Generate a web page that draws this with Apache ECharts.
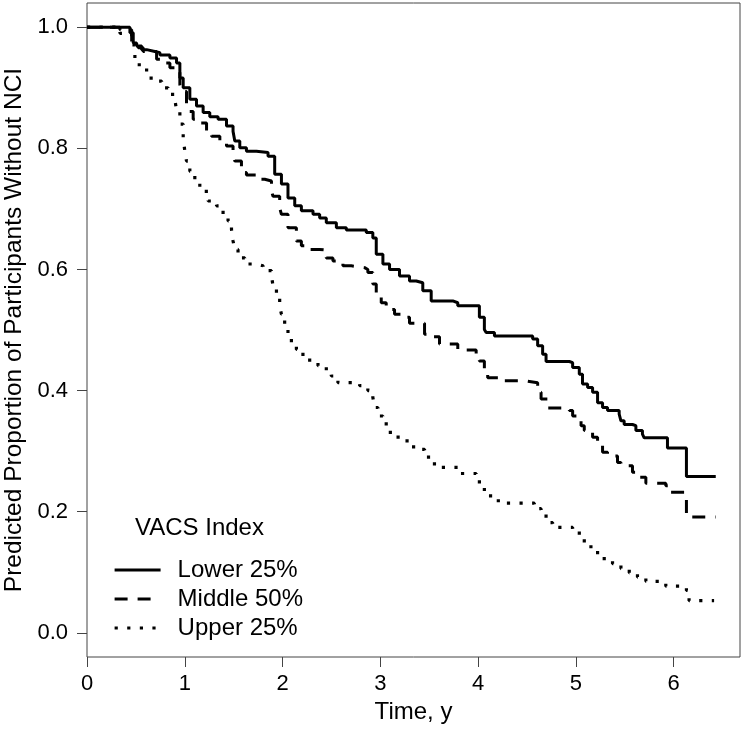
<!DOCTYPE html>
<html>
<head>
<meta charset="utf-8">
<script src="https://cdn.jsdelivr.net/npm/echarts@6/dist/echarts.min.js"></script>
<style>html,body{margin:0;padding:0;background:#fff;}#c{width:744px;height:740px;}</style>
</head>
<body>
<div id="c"></div>
<script>
const seriesNames = ['Lower 25%', 'Middle 50%', 'Upper 25%'];
const xTicks = [0, 1, 2, 3, 4, 5, 6];
const yTicks = [0, 0.2, 0.4, 0.6, 0.8, 1.0];

const lower = [
[0,1.0],[0.337,1.0],[0.439,0.991],[0.473,0.974],[0.508,0.969],[0.559,0.963],[0.610,0.960],[0.694,0.958],
[0.746,0.954],[0.848,0.949],[0.916,0.941],[0.950,0.916],[0.984,0.900],[1.052,0.881],[1.120,0.870],
[1.188,0.859],[1.256,0.852],[1.341,0.848],[1.427,0.837],[1.494,0.828],[1.512,0.812],[1.563,0.801],
[1.631,0.795],[1.733,0.793],[1.852,0.787],[1.920,0.757],[1.989,0.741],[2.056,0.718],[2.125,0.705],
[2.193,0.697],[2.312,0.691],[2.380,0.685],[2.448,0.677],[2.551,0.669],[2.653,0.665],[2.857,0.661],
[2.924,0.652],[2.959,0.625],[3.027,0.609],[3.095,0.600],[3.197,0.589],[3.299,0.581],[3.368,0.578],
[3.435,0.565],[3.521,0.548],[3.742,0.545],[3.793,0.540],[4.014,0.521],[4.065,0.501],[4.083,0.496],
[4.168,0.490],[4.559,0.485],[4.610,0.474],[4.661,0.460],[4.696,0.448],[4.934,0.446],[4.968,0.438],
[5.036,0.427],[5.069,0.411],[5.121,0.405],[5.172,0.397],[5.223,0.380],[5.274,0.372],[5.325,0.367],
[5.444,0.361],[5.462,0.350],[5.495,0.344],[5.580,0.342],[5.615,0.334],[5.682,0.328],[5.700,0.322],
[5.938,0.305],[6.132,0.258],[6.432,0.258]
];

const middle = [
[0,1.0],[0.337,0.996],[0.457,0.974],[0.524,0.966],[0.575,0.960],[0.712,0.947],[0.746,0.941],[0.848,0.933],
[0.916,0.927],[0.950,0.905],[0.967,0.894],[1.018,0.872],[1.035,0.861],[1.086,0.848],[1.137,0.842],
[1.223,0.828],[1.274,0.820],[1.359,0.809],[1.427,0.804],[1.494,0.790],[1.512,0.779],[1.580,0.760],
[1.631,0.756],[1.750,0.749],[1.818,0.746],[1.887,0.729],[1.903,0.721],[1.971,0.702],[1.989,0.691],
[2.056,0.669],[2.142,0.647],[2.193,0.639],[2.278,0.633],[2.380,0.632],[2.448,0.619],[2.516,0.614],
[2.618,0.606],[2.704,0.603],[2.840,0.600],[2.873,0.595],[2.924,0.576],[2.959,0.562],[3.010,0.545],
[3.061,0.534],[3.146,0.526],[3.214,0.521],[3.299,0.511],[3.453,0.493],[3.504,0.489],[3.606,0.477],
[3.793,0.467],[3.981,0.457],[4.014,0.449],[4.065,0.427],[4.099,0.421],[4.219,0.416],[4.491,0.413],
[4.610,0.397],[4.645,0.386],[4.712,0.371],[4.934,0.367],[4.968,0.358],[5.054,0.342],[5.087,0.334],
[5.172,0.323],[5.223,0.316],[5.274,0.298],[5.325,0.292],[5.427,0.281],[5.462,0.276],[5.580,0.265],
[5.615,0.257],[5.717,0.247],[5.921,0.243],[5.955,0.232],[6.132,0.191],[6.432,0.191]
];

const upper = [
[0,1.0],[0.337,0.99],[0.457,0.971],[0.490,0.938],[0.610,0.916],[0.694,0.911],[0.763,0.900],[0.830,0.889],
[0.899,0.881],[0.916,0.862],[0.950,0.840],[0.984,0.817],[1.001,0.795],[1.018,0.779],[1.052,0.762],
[1.103,0.746],[1.154,0.729],[1.239,0.713],[1.325,0.705],[1.392,0.691],[1.443,0.680],[1.478,0.666],
[1.494,0.647],[1.512,0.633],[1.545,0.619],[1.614,0.609],[1.733,0.606],[1.801,0.598],[1.887,0.589],
[1.903,0.573],[1.938,0.554],[1.971,0.540],[1.989,0.526],[2.022,0.510],[2.056,0.493],[2.091,0.479],
[2.142,0.468],[2.209,0.457],[2.278,0.446],[2.363,0.441],[2.448,0.433],[2.499,0.424],[2.567,0.413],
[2.789,0.408],[2.873,0.400],[2.924,0.389],[2.942,0.372],[2.976,0.358],[3.027,0.345],[3.078,0.331],
[3.146,0.323],[3.231,0.317],[3.299,0.307],[3.401,0.303],[3.453,0.290],[3.521,0.279],[3.606,0.273],
[3.793,0.263],[3.981,0.254],[4.014,0.240],[4.065,0.226],[4.150,0.218],[4.252,0.214],[4.576,0.205],
[4.645,0.196],[4.696,0.182],[4.763,0.174],[4.968,0.168],[5.036,0.159],[5.087,0.147],[5.155,0.139],
[5.223,0.127],[5.291,0.119],[5.376,0.114],[5.462,0.106],[5.547,0.099],[5.631,0.092],[5.717,0.085],
[5.921,0.077],[6.132,0.070],[6.159,0.053],[6.415,0.053]
];

const FONT = 'Liberation Sans';
const styles = [
  {type: 'solid', width: 3, color: '#000'},
  {type: [13, 10], width: 3, color: '#000', cap: 'butt'},
  {type: [3.2, 9.4], width: 3.2, color: '#000', cap: 'butt'}
];
const datasets = [lower, middle, upper];

const chart = echarts.init(document.getElementById('c'), null, {renderer: 'canvas'});
chart.setOption({
  animation: false,
  backgroundColor: '#fff',
  textStyle: {fontFamily: FONT, color: '#000'},
  title: {
    text: 'VACS Index', left: 135, top: 516, padding: 0,
    textStyle: {fontFamily: FONT, fontSize: 24, fontWeight: 'normal', color: '#000'}
  },
  legend: {
    orient: 'vertical', left: 108, top: 553, itemWidth: 46, itemHeight: 24, itemGap: 5,
    textStyle: {fontFamily: FONT, fontSize: 24, color: '#000', padding: [0, 0, 0, 12]},
    data: seriesNames.map((n, i) => ({
      name: n, lineStyle: styles[i],
      itemStyle: {color: 'rgba(0,0,0,0)', borderWidth: 0, opacity: 0}
    }))
  },
  grid: {left: 87, right: 4, top: 3, bottom: 83, show: true, borderColor: '#444', borderWidth: 1,
    containLabel: false, outerBoundsMode: 'none'},
  xAxis: {
    type: 'value', min: 0, max: 6.68,
    name: 'Time, y', nameLocation: 'middle', nameGap: 39,
    nameTextStyle: {fontFamily: FONT, fontSize: 24, color: '#000'},
    axisLine: {show: false, onZero: false},
    axisTick: {show: true, inside: false, length: 10, customValues: xTicks, lineStyle: {color: '#444', width: 1}},
    axisLabel: {customValues: xTicks, margin: 16, fontFamily: FONT, fontSize: 22, color: '#000'},
    splitLine: {show: false}
  },
  yAxis: {
    type: 'value', min: -0.04, max: 1.04,
    name: 'Predicted Proportion of Participants Without NCI', nameLocation: 'middle', nameGap: 58,
    nameTextStyle: {fontFamily: FONT, fontSize: 24.5, color: '#000'},
    axisLine: {show: false, onZero: false},
    axisTick: {show: true, inside: false, length: 10, customValues: yTicks, lineStyle: {color: '#444', width: 1}},
    axisLabel: {customValues: yTicks, margin: 19, fontFamily: FONT, fontSize: 22, color: '#000',
      formatter: v => v.toFixed(1)},
    splitLine: {show: false}
  },
  series: seriesNames.map((n, i) => ({
    name: n, type: 'line', step: 'end', symbol: 'none', showSymbol: false,
    data: datasets[i], lineStyle: styles[i], itemStyle: {color: '#000'},
    emphasis: {disabled: true}, z: 3 - i
  }))
});
</script>
</body>
</html>
